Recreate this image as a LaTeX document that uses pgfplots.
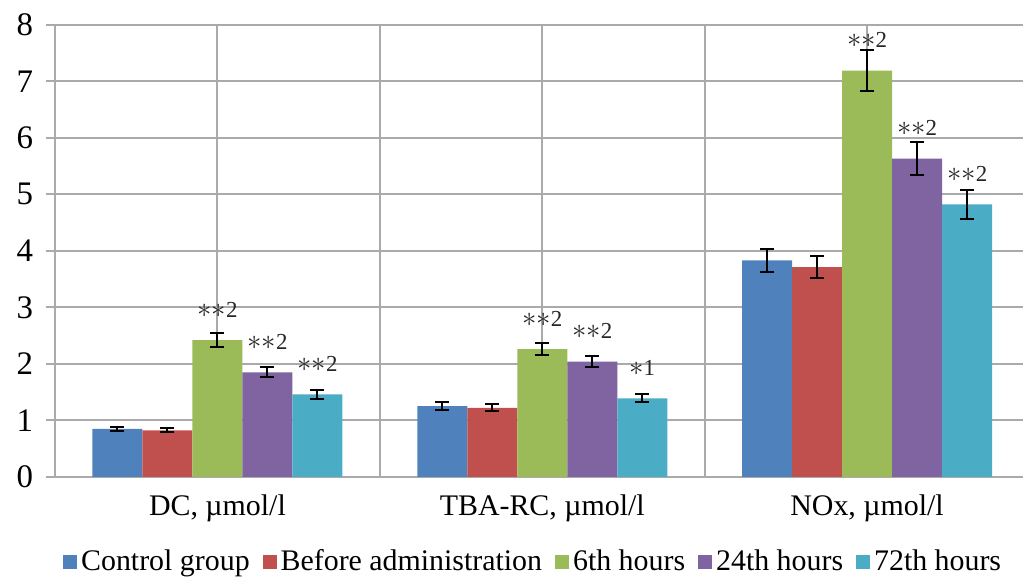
\documentclass[border=0pt]{standalone}
\usepackage{pgfplots}
\pgfplotsset{compat=1.18}
\usepackage{fontspec}
\setmainfont{Liberation Serif}
\definecolor{c1}{HTML}{4F81BD}
\definecolor{c2}{HTML}{C0504D}
\definecolor{c3}{HTML}{9BBB59}
\definecolor{c4}{HTML}{8064A2}
\definecolor{c5}{HTML}{4BACC6}
\definecolor{gridgray}{RGB}{170,170,170}
\newcommand{\as}{{\fontsize{15}{15}\selectfont$\ast$}}
\begin{document}
\begin{tikzpicture}
\begin{axis}[
  scale only axis,
  width=484bp, height=226bp,
  xmin=-0.5, xmax=2.48,
  ymin=0, ymax=8,
  ybar=0pt, bar width=25bp,
  axis x line*=bottom, axis y line*=left,
  axis line style={gridgray, line width=1bp},
  xtick={0,1,2},
  xticklabels={{DC, µmol/l},{TBA-RC, µmol/l},{NOx, µmol/l}},
  xtick style={draw=none},
  extra x ticks={-0.5,0.5,1.5},
  extra x tick labels={},
  extra x tick style={grid=major, tick style={draw=gridgray, line width=1bp}},
  ytick={0,1,...,8},
  ymajorgrids=true, xmajorgrids=true,
  grid style={gridgray, line width=1bp},
  ytick style={draw=gridgray, line width=1bp},
  tick align=outside,
  major tick length=4.5bp,
  /pgf/number format/assume math mode=true,
  xticklabel style={font=\fontsize{15}{17}\selectfont, yshift=-1bp},
  yticklabel style={font=\fontsize{16.5}{18}\selectfont, xshift=-3bp},
  legend style={at={(0.495,-0.188)}, anchor=center, draw=none,
    legend columns=-1, font=\fontsize{15}{17}\selectfont,
    inner sep=0pt,
    /tikz/every even column/.append style={column sep=4.5bp}},
  legend image code/.code={\fill[#1] (0bp,-3.5bp) rectangle (7bp,3.5bp);},
  error bars/y dir=both, error bars/y explicit,
  error bars/error bar style={black, line width=1bp},
  error bars/error mark options={rotate=90, black, mark size=3.5bp, line width=1bp},
  clip=false,
]
\addplot[ybar, fill=c1, draw=none] coordinates {(0,0.85) +- (0,0.04) (1,1.25) +- (0,0.07) (2,3.83) +- (0,0.20)};
\addplot[ybar, fill=c2, draw=none] coordinates {(0,0.82) +- (0,0.035) (1,1.22) +- (0,0.06) (2,3.71) +- (0,0.19)};
\addplot[ybar, fill=c3, draw=none] coordinates {(0,2.42) +- (0,0.12) (1,2.26) +- (0,0.11) (2,7.19) +- (0,0.37)};
\addplot[ybar, fill=c4, draw=none] coordinates {(0,1.85) +- (0,0.09) (1,2.04) +- (0,0.10) (2,5.63) +- (0,0.29)};
\addplot[ybar, fill=c5, draw=none] coordinates {(0,1.46) +- (0,0.075) (1,1.39) +- (0,0.07) (2,4.82) +- (0,0.25)};
\legend{Control group, Before administration, 6th hours, 24th hours, 72th hours}
\begin{scope}[every node/.style={font=\fontsize{11.5}{12}\selectfont, text=black!85, inner sep=0pt}]
\node at (axis cs:0,2.95) {\as\as2};
\node at (axis cs:0.154,2.38) {\as\as2};
\node at (axis cs:0.308,1.99) {\as\as2};
\node at (axis cs:1,2.80) {\as\as2};
\node at (axis cs:1.154,2.58) {\as\as2};
\node at (axis cs:1.308,1.93) {\as1};
\node at (axis cs:2,7.73) {\as\as2};
\node at (axis cs:2.154,6.17) {\as\as2};
\node at (axis cs:2.308,5.36) {\as\as2};
\end{scope}
\end{axis}
\pgfresetboundingbox
\useasboundingbox (-27.5bp,-51bp) rectangle (484bp,238.4bp);
\end{tikzpicture}
\end{document}
